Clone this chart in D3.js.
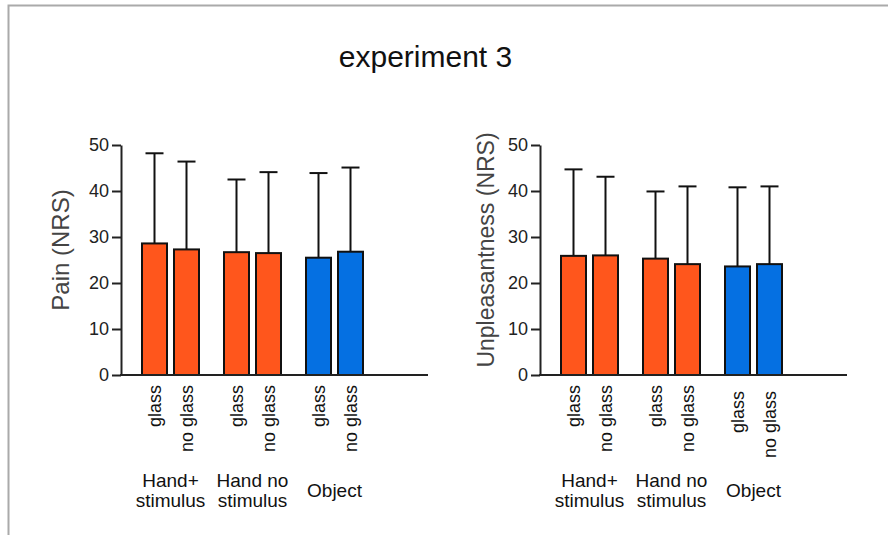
<!DOCTYPE html>
<html>
<head>
<meta charset="utf-8">
<script src="https://cdn.jsdelivr.net/npm/d3@7"></script>
<style>
  body { margin: 0; background: #fff; }
  svg { font-family: "Liberation Sans", Arial, sans-serif; }
</style>
</head>
<body>
<svg width="888" height="535"></svg>
<script>
const groups = ["Hand+\nstimulus", "Hand no\nstimulus", "Object"];
const conditions = ["glass", "no glass"];
const painMean = [28.6, 27.3, 26.7, 26.5, 25.5, 26.8];
const painSD = [19.6, 19.1, 15.8, 17.6, 18.4, 18.3];
const unplMean = [25.9, 26.0, 25.3, 24.1, 23.6, 24.1];
const unplSD = [18.8, 17.1, 14.6, 16.9, 17.2, 16.9];
const yTicks = [0, 10, 20, 30, 40, 50];

const svg = d3.select("svg");
const orange = "#ff561c", blue = "#0570e2";

// frame
svg.append("path").attr("d", "M8.5,535V5.5H888").attr("fill", "none")
    .attr("stroke", "#aaa").attr("stroke-width", 2);

svg.append("text").attr("x", 425.5).attr("y", 67).attr("text-anchor", "middle")
    .attr("font-size", 30).attr("fill", "#111").text("experiment 3");

const y = d3.scaleLinear().domain([0, 50]).range([375, 145]);

function panel(x0, label, labelSize, labelX, means, sds, objShift) {
    const g = svg.append("g").attr("transform", `translate(${x0},0)`);
    const data = [];
    groups.forEach((grp, gi) => conditions.forEach((c, ci) => {
        const i = gi * 2 + ci;
        data.push({ grp, c, gi, mean: means[i], sd: sds[i] });
    }));

    const xg = d3.scaleBand().domain(groups).range([8.5, 254.5]);
    const xi = d3.scalePoint().domain(conditions).range([25, 57]);
    const cx = d => xg(d.grp) + xi(d.c);
    const bw = 25, cap = 18;

    // error bars (behind bars)
    g.selectAll(".err").data(data).join("line")
        .attr("x1", cx).attr("x2", cx)
        .attr("y1", d => y(d.mean)).attr("y2", d => y(d.mean + d.sd))
        .attr("stroke", "#111").attr("stroke-width", 2);
    g.selectAll(".cap").data(data).join("line")
        .attr("x1", d => cx(d) - cap / 2).attr("x2", d => cx(d) + cap / 2)
        .attr("y1", d => y(d.mean + d.sd)).attr("y2", d => y(d.mean + d.sd))
        .attr("stroke", "#111").attr("stroke-width", 2);

    g.selectAll("rect").data(data).join("rect")
        .attr("x", d => cx(d) - bw / 2).attr("width", bw)
        .attr("y", d => y(d.mean)).attr("height", d => y(0) - y(d.mean))
        .attr("fill", d => d.gi === 2 ? blue : orange)
        .attr("stroke", "#111").attr("stroke-width", 2);

    // axes
    const ya = g.append("g").call(d3.axisLeft(y).tickValues(yTicks).tickSize(9).tickSizeOuter(0));
    ya.attr("font-size", 18).attr("font-family", "Liberation Sans, Arial, sans-serif");
    ya.select(".domain").attr("stroke-width", 2).attr("stroke", "#222");
    ya.selectAll(".tick line").attr("stroke-width", 2).attr("stroke", "#222");
    ya.selectAll(".tick text").attr("fill", "#222").attr("x", -12);
    g.append("line").attr("x1", -1).attr("x2", 307).attr("y1", y(0)).attr("y2", y(0))
        .attr("stroke", "#222").attr("stroke-width", 2);

    // condition labels
    g.selectAll(".cond").data(data).join("text")
        .attr("transform", d => `translate(${cx(d)},${385 + (d.gi === 2 ? objShift : 0)}) rotate(-90)`)
        .attr("text-anchor", "end").attr("dy", "0.35em")
        .attr("font-size", 18).attr("fill", "#111").text(d => d.c);

    // group labels
    groups.forEach(grp => {
        const lines = grp.split("\n");
        const t = g.append("text").attr("text-anchor", "middle")
            .attr("font-size", 19).attr("fill", "#111");
        const gx = xg(grp) + xg.bandwidth() / 2;
        const base = lines.length === 1 ? 497 : 487;
        lines.forEach((ln, k) => t.append("tspan").attr("x", gx).attr("y", base + k * 20).text(ln));
    });

    g.append("text").attr("transform", `translate(${labelX},250) rotate(-90)`)
        .attr("text-anchor", "middle").attr("dy", "0.35em")
        .attr("font-size", labelSize).attr("fill", "#444").text(label);
}

panel(121, "Pain (NRS)", 24, -60, painMean, painSD, 0);
panel(540, "Unpleasantness (NRS)", 23, -54, unplMean, unplSD, 6);
</script>
</body>
</html>
